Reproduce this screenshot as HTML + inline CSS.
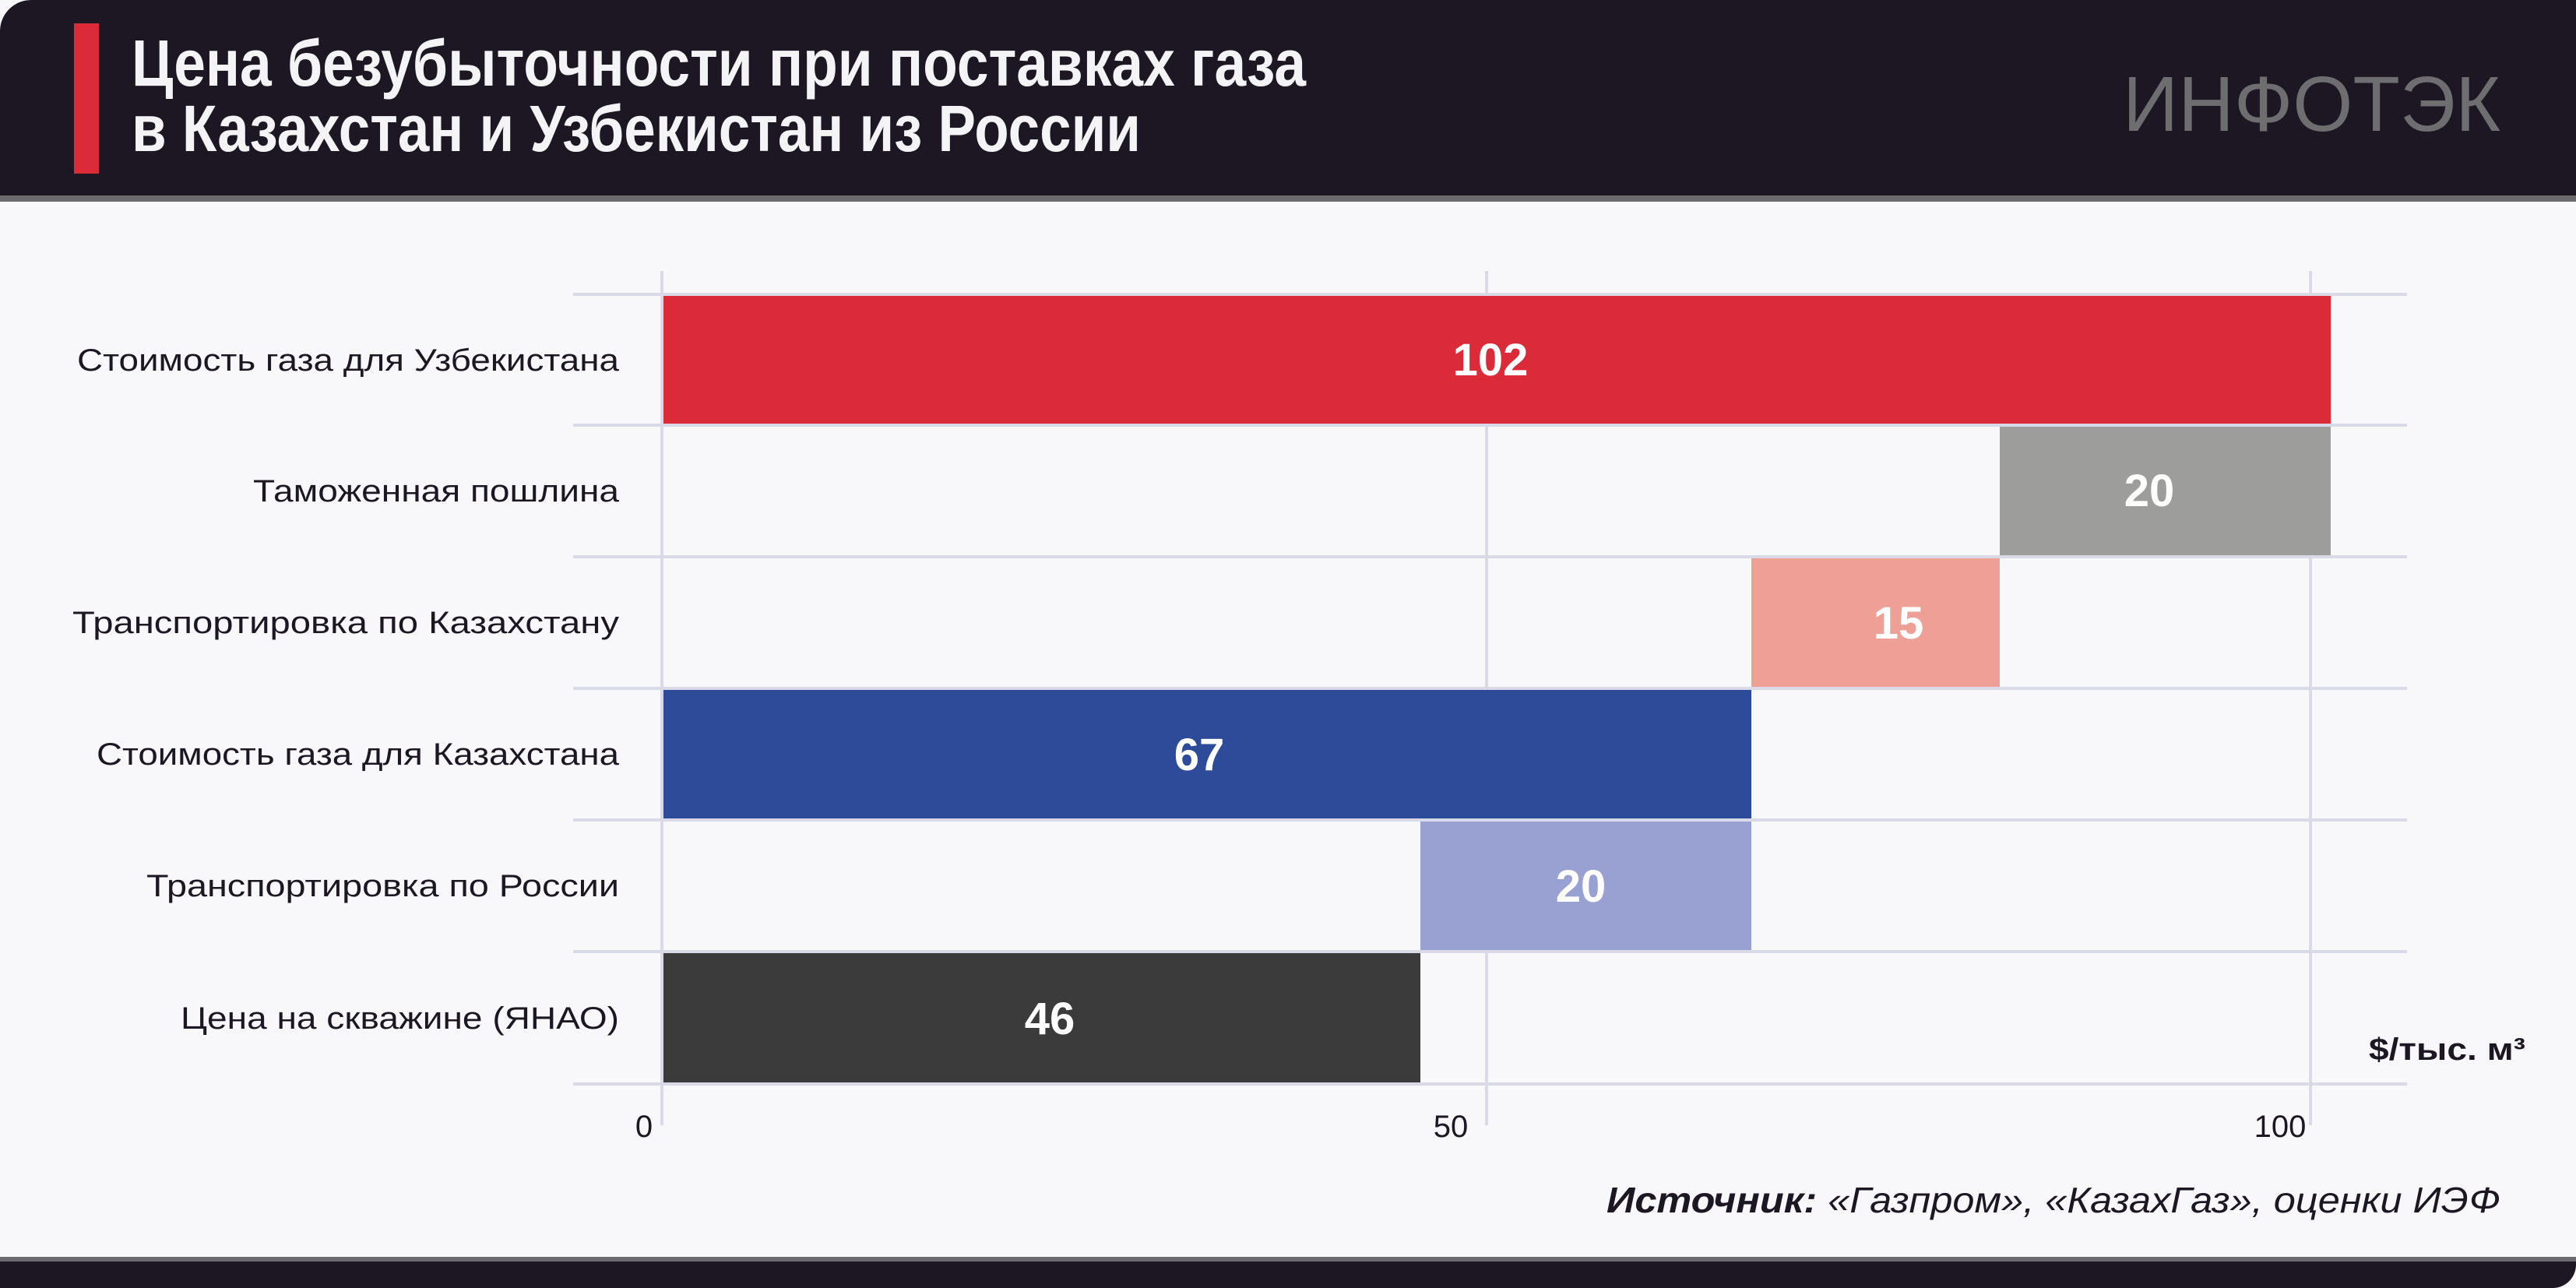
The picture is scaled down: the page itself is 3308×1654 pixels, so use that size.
<!DOCTYPE html>
<html><head><meta charset="utf-8"><style>
html,body{margin:0;padding:0;background:#f8f8fb;}
svg{display:block}
</style></head><body>
<svg width="3308" height="1654" viewBox="0 0 3308 1654" xmlns="http://www.w3.org/2000/svg" font-family="'Liberation Sans', 'Noto Sans CJK SC', sans-serif">
<rect x="0" y="0" width="3308" height="1654" fill="#f8f8fb"/>
<path d="M40 0 H3308 V251 H0 V40 A40 40 0 0 1 40 0 Z" fill="#1c1722"/>
<rect x="0" y="251" width="3308" height="8" fill="#6b6b6d"/>
<rect x="95" y="30" width="32" height="193" fill="#dc2b38"/>
<text x="169" y="110" font-size="84" font-weight="bold" fill="#f4f4f6" textLength="1508" lengthAdjust="spacingAndGlyphs">Цена безубыточности при поставках газа</text>
<text x="169" y="194" font-size="84" font-weight="bold" fill="#f4f4f6" textLength="1296" lengthAdjust="spacingAndGlyphs">в Казахстан и Узбекистан из России</text>
<text x="2726" y="168" font-size="100" fill="#6e6e70" textLength="485" lengthAdjust="spacingAndGlyphs">ИНФОТЭК</text>
<rect x="0" y="1614" width="3308" height="6" fill="#6b6b6d"/>
<path d="M0 1620 H3308 V1624 A30 30 0 0 1 3278 1654 H0 Z" fill="#1c1722"/>
<g stroke="#d9d9e8" stroke-width="4">
<line x1="850" y1="348" x2="850" y2="1445"/>
<line x1="1909" y1="348" x2="1909" y2="1445"/>
<line x1="2967" y1="348" x2="2967" y2="1445"/>
<line x1="736" y1="378" x2="3091" y2="378"/>
<line x1="736" y1="546" x2="3091" y2="546"/>
<line x1="736" y1="715" x2="3091" y2="715"/>
<line x1="736" y1="884" x2="3091" y2="884"/>
<line x1="736" y1="1053" x2="3091" y2="1053"/>
<line x1="736" y1="1222" x2="3091" y2="1222"/>
<line x1="736" y1="1392" x2="3091" y2="1392"/>
</g>
<rect x="852" y="380" width="2141" height="164" fill="#dc2b38"/>
<rect x="2568" y="548" width="425" height="165" fill="#9d9d9b"/>
<rect x="2249" y="717" width="319" height="165" fill="#eea096"/>
<rect x="852" y="886" width="1397" height="165" fill="#2e4b9a"/>
<rect x="1824" y="1055" width="425" height="165" fill="#99a0d2"/>
<rect x="852" y="1224" width="972" height="166" fill="#3b3b3b"/>
<g font-size="58" font-weight="bold" fill="#ffffff" text-anchor="middle">
<text x="1914" y="482">102</text>
<text x="2760" y="650">20</text>
<text x="2438" y="820">15</text>
<text x="1540" y="989">67</text>
<text x="2030" y="1158">20</text>
<text x="1348" y="1328">46</text>
</g>
<g font-size="40" fill="#1c1722">
<text x="99" y="476" textLength="696" lengthAdjust="spacingAndGlyphs">Стоимость газа для Узбекистана</text>
<text x="325" y="644" textLength="470" lengthAdjust="spacingAndGlyphs">Таможенная пошлина</text>
<text x="93" y="813" textLength="702" lengthAdjust="spacingAndGlyphs">Транспортировка по Казахстану</text>
<text x="124" y="982" textLength="671" lengthAdjust="spacingAndGlyphs">Стоимость газа для Казахстана</text>
<text x="188" y="1151" textLength="607" lengthAdjust="spacingAndGlyphs">Транспортировка по России</text>
<text x="232" y="1321" textLength="563" lengthAdjust="spacingAndGlyphs">Цена на скважине (ЯНАО)</text>
</g>
<g font-size="40" fill="#1c1722" text-anchor="middle">
<text x="827" y="1460">0</text>
<text x="1863" y="1460">50</text>
<text x="2928" y="1460">100</text>
</g>
<text x="3042" y="1361" font-size="40" font-weight="bold" fill="#1c1722" textLength="201" lengthAdjust="spacingAndGlyphs">$/тыс. м³</text>
<text x="2063" y="1557" font-size="46" font-style="italic" fill="#1c1722" textLength="1148" lengthAdjust="spacingAndGlyphs"><tspan font-weight="bold">Источник:</tspan> «Газпром», «КазахГаз», оценки ИЭФ</text>
</svg>
</body></html>
